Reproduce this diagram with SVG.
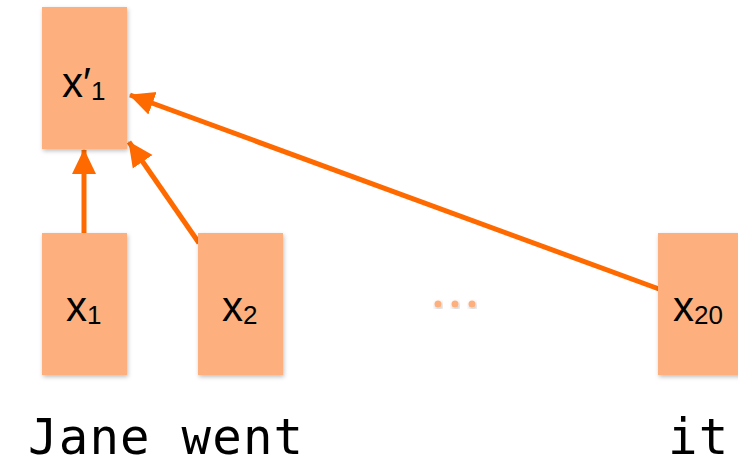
<svg xmlns="http://www.w3.org/2000/svg" width="738" height="465" viewBox="0 0 738 465">
<defs>
<filter id="sh" x="-20%" y="-20%" width="140%" height="140%">
<feDropShadow dx="1" dy="2" stdDeviation="2" flood-color="#000" flood-opacity="0.25"/>
</filter>
<marker id="ah" markerUnits="userSpaceOnUse" markerWidth="26" markerHeight="26" viewBox="0 0 26 26" refX="24" refY="13" orient="auto">
<path d="M0,1 L25,13 L0,25 Z" fill="#FF6A00"/>
</marker>
<style>
.box{fill:#FDB07D;filter:url(#sh)}
.lbl{font-family:"Liberation Sans","DejaVu Sans",sans-serif;font-size:42px;fill:#000}
.sub{font-size:26px}
.word{font-family:"DejaVu Sans Mono","Liberation Mono",monospace;font-size:49px;letter-spacing:1.2px;fill:#000}
.edge{stroke:#FF6A00;stroke-width:5;fill:none;marker-end:url(#ah)}
.dot{fill:#FDB07D;filter:url(#sh)}
</style>
</defs>
<g id="connectors">
<line class="edge" x1="84" y1="234" x2="84" y2="150"/>
<line class="edge" x1="199" y1="243" x2="129" y2="142"/>
<line class="edge" x1="659" y1="289" x2="130" y2="95"/>
</g>
<g id="node-xp1">
<rect class="box" x="42" y="7" width="85" height="142"/>
<text class="lbl" x="62" y="97">x′<tspan class="sub" dy="3">1</tspan></text>
</g>
<g id="node-x1">
<rect class="box" x="42" y="233" width="85" height="142"/>
<text class="lbl" x="66" y="321">x<tspan class="sub" dy="3">1</tspan></text>
</g>
<g id="node-x2">
<rect class="box" x="198" y="233" width="85" height="142"/>
<text class="lbl" x="222" y="321">x<tspan class="sub" dy="3">2</tspan></text>
</g>
<g id="node-x20">
<rect class="box" x="658" y="233" width="90" height="142"/>
<text class="lbl" x="673" y="321">x<tspan class="sub" dy="3">20</tspan></text>
</g>
<g id="ellipsis">
<circle class="dot" cx="438" cy="304" r="3.5"/>
<circle class="dot" cx="455" cy="304" r="3.5"/>
<circle class="dot" cx="472" cy="304" r="3.5"/>
</g>
<g id="words">
<text class="word" x="28" y="454">Jane went</text>
<text class="word" x="668" y="454" letter-spacing="6">it</text>
</g>
</svg>
